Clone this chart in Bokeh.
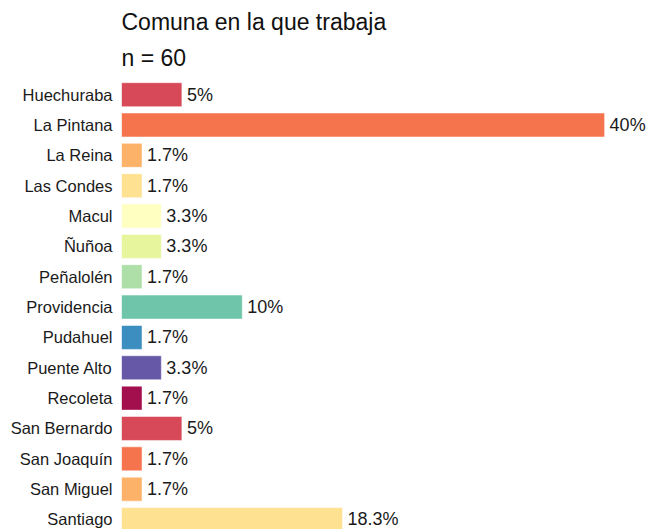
from bokeh.plotting import figure
from bokeh.models import Range1d, FixedTicker, Title, ColumnDataSource
from bokeh.palettes import Spectral11
from bokeh.core.properties import value
from bokeh.embed import file_html
from bokeh.resources import INLINE

titulo = "Comuna en la que trabaja"
subtitulo = "n = 60"
comunas = ["Huechuraba", "La Pintana", "La Reina", "Las Condes", "Macul", "Ñuñoa",
           "Peñalolén", "Providencia", "Pudahuel", "Puente Alto", "Recoleta",
           "San Bernardo", "San Joaquín", "San Miguel", "Santiago"]
porcentajes = [5, 40, 1.7, 1.7, 3.3, 3.3, 1.7, 10, 1.7, 3.3, 1.7, 5, 1.7, 1.7, 18.3]
etiquetas = ["5%", "40%", "1.7%", "1.7%", "3.3%", "3.3%", "1.7%", "10%", "1.7%",
             "3.3%", "1.7%", "5%", "1.7%", "1.7%", "18.3%"]

pos = list(range(len(comunas)))
paleta = list(Spectral11)[::-1]
colores = [paleta[(i + 1) % 11] for i in pos]

src = ColumnDataSource(dict(y=pos, x=porcentajes, lab=etiquetas, color=colores))

p = figure(width=650, height=529, output_backend="svg", toolbar_location=None,
           x_range=Range1d(0, 43.8), y_range=Range1d(14.33, -0.5),
           min_border_left=121, min_border_right=0, min_border_bottom=0,
           min_border_top=79, title=None)

p.hbar(y="y", left=0, right="x", height=0.79, fill_color="color", fill_alpha=0.95,
       line_color="white", line_alpha=0.5, line_width=1, source=src)
p.text(x="x", y="y", text="lab", x_offset=5, text_baseline="middle", text_align="left",
       text_font=value("Liberation Sans"), text_font_size="18px", text_color="#1a1a1a",
       source=src)

p.xaxis.visible = False
ya = p.yaxis[0]
ya.ticker = FixedTicker(ticks=pos)
ya.major_label_overrides = {i: c for i, c in zip(pos, comunas)}
ya.axis_line_color = None
ya.major_tick_line_color = None
ya.minor_tick_line_color = None
ya.major_tick_out = 0
ya.major_tick_in = 0
ya.major_label_standoff = 9
ya.major_label_text_font = "Liberation Sans"
ya.major_label_text_font_size = "16.5px"
ya.major_label_text_color = "#1a1a1a"

p.xgrid.visible = False
p.ygrid.visible = False
p.outline_line_color = None
p.background_fill_color = "white"
p.border_fill_color = "white"

p.add_layout(Title(text=subtitulo, align="left", text_font="Liberation Sans",
                   text_font_size="23px", text_font_style="normal", text_color="#111111",
                   standoff=17), "above")
p.add_layout(Title(text=titulo, align="left", text_font="Liberation Sans",
                   text_font_size="23px", text_font_style="normal", text_color="#111111",
                   standoff=0), "above")

open("out.html", "w").write(file_html(p, INLINE))
